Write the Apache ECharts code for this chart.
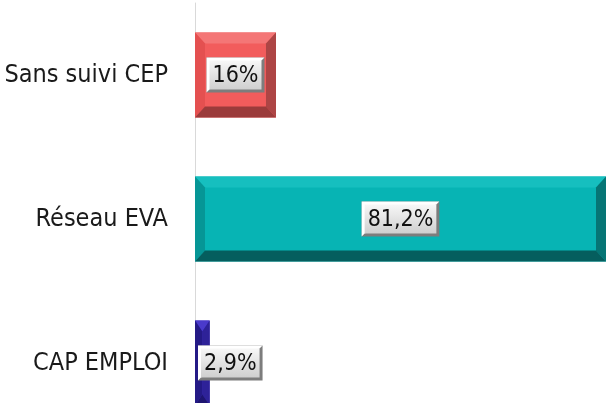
<!DOCTYPE html>
<html>
<head>
<meta charset="utf-8">
<script src="https://cdn.jsdelivr.net/npm/echarts@6/dist/echarts.min.js"></script>
<style>
    html, body { margin: 0; padding: 0; background: #fff; }
    #chart { width: 606px; height: 403px; }
</style>
</head>
<body>
<div id="chart"></div>
<script>
    // données (de bas en haut)
    const categories = ['CAP EMPLOI', 'Réseau EVA', 'Sans suivi CEP'];
    const values = [2.9, 81.2, 16];
    // face, haut, gauche, droite, bas
    const barColors = [
        ['#3b2bb8', '#4a3acb', '#241a86', '#2e2298', '#1e1570'],
        ['#07b4b4', '#16bfbf', '#069696', '#067575', '#055e5e'],
        ['#f25c5c', '#f47676', '#e45050', '#ad4545', '#9b3b3b']
    ];
    const FONT_FAMILY = "'DejaVu Sans Condensed', Roboto";

    const fontCtx = document.createElement('canvas').getContext('2d');
    function textWidth(txt, font) {
        fontCtx.font = font;
        return fontCtx.measureText(txt).width;
    }

    function fmt(v) {
        return String(v).replace('.', ',') + '%';
    }

    function poly(points, fill) {
        return { type: 'polygon', shape: { points: points }, style: { fill: fill } };
    }

    function renderItem(params, api) {
        const v = api.value(0);
        const cat = api.value(1);
        const start = api.coord([0, cat]);
        const end = api.coord([v, cat]);
        const h = api.size([0, 1])[1] * 0.59;
        const x0 = start[0], x1 = end[0];
        const y0 = start[1] - h / 2, y1 = y0 + h;
        const b = Math.min(10, (x1 - x0) / 2);
        const bt = 11;
        const c = barColors[params.dataIndex];
        const children = [
            { type: 'rect', shape: { x: x0, y: y0, width: x1 - x0, height: h }, style: { fill: c[0] } },
            poly([[x0, y0], [x1, y0], [x1 - b, y0 + bt], [x0 + b, y0 + bt]], c[1]),
            poly([[x0, y0], [x0 + b, y0 + bt], [x0 + b, y1 - bt], [x0, y1]], c[2]),
            poly([[x1, y0], [x1 - b, y0 + bt], [x1 - b, y1 - bt], [x1, y1]], c[3]),
            poly([[x0, y1], [x1, y1], [x1 - b, y1 - bt], [x0 + b, y1 - bt]], c[4])
        ];

        // étiquette en relief
        const label = fmt(v);
        const font = '23px ' + FONT_FAMILY;
        const bw = textWidth(label, font) + 12;
        const bh = 35;
        const mid = (y0 + y1) / 2;
        const lx = Math.max((x0 + x1) / 2 - bw / 2, x0 + 3);
        const ly = mid - bh / 2;
        const e = 3;
        children.push(
            { type: 'rect', shape: { x: lx, y: ly, width: bw, height: bh }, style: { fill: '#7d7d7d' } },
            poly([[lx, ly], [lx + bw, ly], [lx + bw - e, ly + e], [lx + e, ly + bh - e], [lx, ly + bh]], '#ffffff'),
            {
                type: 'rect',
                shape: { x: lx + e, y: ly + e, width: bw - 2 * e, height: bh - 2 * e },
                style: {
                    fill: new echarts.graphic.LinearGradient(0, 0, 0, 1, [
                        { offset: 0, color: '#f7f7f7' },
                        { offset: 1, color: '#cfcfcf' }
                    ])
                }
            },
            {
                type: 'text',
                x: lx + bw / 2,
                y: mid + 1,
                style: { text: label, font: font, fill: '#111', align: 'center', verticalAlign: 'middle' }
            }
        );
        return { type: 'group', children: children };
    }

    const chart = echarts.init(document.getElementById('chart'));
    chart.setOption({
        animation: false,
        grid: { left: 195, right: 0, top: 3, height: 432, outerBoundsMode: 'none' },
        xAxis: {
            type: 'value',
            min: 0,
            max: 81.2,
            show: false
        },
        yAxis: {
            type: 'category',
            data: categories,
            axisLine: { show: true, lineStyle: { color: '#d9d9d9', width: 1 } },
            axisTick: { show: false },
            axisLabel: { color: '#1a1a1a', fontSize: 25, fontFamily: FONT_FAMILY, margin: 27 },
            splitLine: { show: false }
        },
        series: [{
            type: 'custom',
            renderItem: renderItem,
            encode: { x: 0, y: 1 },
            data: values.map((v, i) => [v, i])
        }]
    });
</script>
</body>
</html>
